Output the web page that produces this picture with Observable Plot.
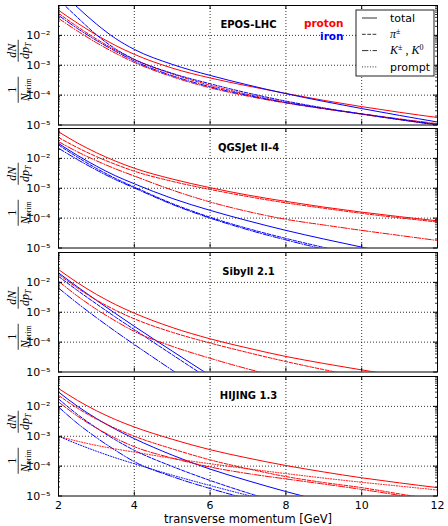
<!DOCTYPE html>
<html>
<head>
<meta charset="utf-8">
<script src="https://cdn.jsdelivr.net/npm/d3@7"></script>
<script src="https://cdn.jsdelivr.net/npm/@observablehq/plot@0.6"></script>
<style>
  html, body { margin: 0; padding: 0; background: #fff; overflow: hidden; }
  #chart { position: relative; width: 448px; height: 526px; }
  #chart svg { position: absolute; left: 0; overflow: visible; }
</style>
</head>
<body>
<div id="chart"></div>
<script>
// transverse momentum grid (GeV) shared by every curve
const pT = [2, 2.5, 3, 3.5, 4, 5, 6, 7, 8, 9, 10, 11, 12];

// EPOS-LHC
const eposProtonTotal = [6.92e-2, 2.57e-2, 1.035e-2, 4.62e-3, 2.32e-3, 8.04e-4, 3.76e-4, 2.02e-4, 1.135e-4, 6.68e-5, 4.12e-5, 2.66e-5, 1.78e-5];
const eposProtonPi    = [5.50e-2, 1.95e-2, 7.59e-3, 3.24e-3, 1.55e-3, 5.13e-4, 2.14e-4, 1.05e-4, 5.75e-5, 3.55e-5, 2.29e-5, 1.51e-5, 1.0e-5];
const eposProtonK     = [3.72e-2, 1.40e-2, 5.69e-3, 2.54e-3, 1.245e-3, 4.12e-4, 1.76e-4, 9.23e-5, 5.43e-5, 3.51e-5, 2.37e-5, 1.60e-5, 1.11e-5];
const eposIronTotal   = [3.55e-1, 8.71e-2, 2.40e-2, 7.94e-3, 3.39e-3, 1.07e-3, 4.57e-4, 2.19e-4, 1.12e-4, 6.17e-5, 3.55e-5, 2.09e-5, 1.26e-5];
const eposIronPi      = [1.585e-1, 3.98e-2, 1.047e-2, 3.55e-3, 1.585e-3, 5.37e-4, 2.40e-4, 1.175e-4, 6.31e-5, 3.72e-5, 2.34e-5, 1.51e-5, 1.0e-5];
const eposIronK       = [4.68e-2, 1.70e-2, 6.76e-3, 2.95e-3, 1.38e-3, 4.47e-4, 1.905e-4, 9.77e-5, 5.62e-5, 3.55e-5, 2.34e-5, 1.55e-5, 1.047e-5];

// QGSJet II-4
const qgsProtonTotal = [7.76e-2, 3.27e-2, 1.55e-2, 8.13e-3, 4.68e-3, 2.04e-3, 1.047e-3, 5.89e-4, 3.63e-4, 2.34e-4, 1.585e-4, 1.12e-4, 8.13e-5];
const qgsProtonPi    = [5.01e-2, 2.29e-2, 1.148e-2, 6.31e-3, 3.72e-3, 1.70e-3, 9.12e-4, 5.25e-4, 3.24e-4, 2.14e-4, 1.445e-4, 1.023e-4, 7.41e-5];
const qgsProtonK     = [3.63e-2, 1.66e-2, 8.32e-3, 4.47e-3, 2.57e-3, 8.71e-4, 3.47e-4, 1.66e-4, 9.12e-5, 5.89e-5, 3.89e-5, 2.63e-5, 1.78e-5];
const qgsIronTotal   = [3.16e-2, 1.26e-2, 5.50e-3, 2.63e-3, 1.41e-3, 4.57e-4, 1.82e-4, 8.13e-5, 3.89e-5, 2.0e-5, 1.07e-5, 6.03e-6];
const qgsIronPi      = [2.82e-2, 1.096e-2, 4.62e-3, 2.14e-3, 1.096e-3, 3.09e-4, 1.07e-4, 4.47e-5, 2.09e-5, 1.047e-5, 5.62e-6];
const qgsIronK       = [2.19e-2, 9.12e-3, 4.07e-3, 1.95e-3, 1.023e-3, 2.88e-4, 1.0e-4, 4.07e-5, 1.86e-5, 9.12e-6, 4.79e-6];

// Sibyll 2.1
const sibProtonTotal = [2.69e-2, 9.77e-3, 3.98e-3, 1.82e-3, 9.33e-4, 3.09e-4, 1.29e-4, 6.31e-5, 3.31e-5, 1.93e-5, 1.175e-5, 7.41e-6];
const sibProtonPi    = [1.86e-2, 6.46e-3, 2.57e-3, 1.175e-3, 6.03e-4, 2.14e-4, 9.33e-5, 4.47e-5, 2.24e-5, 1.20e-5, 6.76e-6];
const sibProtonK     = [1.096e-2, 3.47e-3, 1.26e-3, 5.13e-4, 2.29e-4, 7.24e-5, 2.88e-5, 1.26e-5, 6.03e-6];
const sibIronTotal   = [2.09e-2, 7.08e-3, 2.51e-3, 9.12e-4, 3.39e-4, 5.01e-5, 7.59e-6];
const sibIronPi      = [1.585e-2, 5.37e-3, 1.905e-3, 6.92e-4, 2.63e-4, 3.80e-5, 5.62e-6];
const sibIronK       = [6.46e-3, 2.0e-3, 6.61e-4, 2.29e-4, 8.32e-5, 1.148e-5, 1.585e-6];

// HIJING 1.3
const hijProtonTotal  = [3.98e-2, 1.585e-2, 7.16e-3, 3.63e-3, 2.04e-3, 7.94e-4, 3.55e-4, 1.86e-4, 1.047e-4, 6.38e-5, 4.07e-5, 2.75e-5, 1.905e-5];
const hijProtonPi     = [2.34e-2, 8.71e-3, 3.76e-3, 1.84e-3, 1.0e-3, 3.80e-4, 1.62e-4, 8.13e-5, 4.47e-5, 2.82e-5, 1.905e-5, 1.175e-5, 7.41e-6];
const hijProtonK      = [1.41e-2, 4.73e-3, 1.88e-3, 8.61e-4, 4.47e-4, 1.86e-4, 9.33e-5, 5.62e-5, 3.72e-5, 2.51e-5, 1.66e-5, 1.047e-5, 6.31e-6];
const hijProtonPrompt = [1.0e-3, 6.84e-4, 4.95e-4, 3.76e-4, 2.95e-4, 1.82e-4, 1.20e-4, 8.13e-5, 5.62e-5, 3.98e-5, 2.88e-5, 2.14e-5, 1.585e-5];
const hijIronTotal    = [3.02e-2, 1.012e-2, 3.94e-3, 1.72e-3, 8.32e-4, 2.34e-4, 7.94e-5, 3.24e-5, 1.41e-5, 6.61e-6];
const hijIronPi       = [1.78e-2, 5.37e-3, 1.905e-3, 7.59e-4, 3.39e-4, 9.77e-5, 3.31e-5, 1.26e-5, 5.25e-6];
const hijIronK        = [9.55e-3, 2.69e-3, 9.02e-4, 3.39e-4, 1.41e-4, 4.47e-5, 1.78e-5, 7.94e-6];
const hijIronPrompt   = [1.0e-3, 5.50e-4, 3.16e-4, 1.905e-4, 1.20e-4, 5.01e-5, 2.24e-5, 1.047e-5, 5.01e-6];

// axis ticks and labels
const xTicks = [2, 4, 6, 8, 10, 12];
const xGrid = [4, 6, 8, 10];
const yTicks = [1e-5, 1e-4, 1e-3, 1e-2];
const yTickLabels = ["10\u207B\u2075", "10\u207B\u2074", "10\u207B\u00B3", "10\u207B\u00B2"];
const yGrid = [1e-4, 1e-3, 1e-2];
const yMinor = [];
for (const base of [1e-5, 1e-4, 1e-3, 1e-2]) for (let m = 2; m <= 9; m++) yMinor.push(m * base);

const primaries = ["proton", "iron"];
const primaryColors = ["#ff0000", "#0000ff"];
const xLabel = "transverse momentum [GeV]";

const models = [
  {name: "EPOS-LHC",
   proton: {total: eposProtonTotal, pi: eposProtonPi, K: eposProtonK},
   iron:   {total: eposIronTotal, pi: eposIronPi, K: eposIronK}},
  {name: "QGSJet II-4",
   proton: {total: qgsProtonTotal, pi: qgsProtonPi, K: qgsProtonK},
   iron:   {total: qgsIronTotal, pi: qgsIronPi, K: qgsIronK}},
  {name: "Sibyll 2.1",
   proton: {total: sibProtonTotal, pi: sibProtonPi, K: sibProtonK},
   iron:   {total: sibIronTotal, pi: sibIronPi, K: sibIronK}},
  {name: "HIJING 1.3",
   proton: {total: hijProtonTotal, pi: hijProtonPi, K: hijProtonK, prompt: hijProtonPrompt},
   iron:   {total: hijIronTotal, pi: hijIronPi, K: hijIronK, prompt: hijIronPrompt}}
];

// line style per component
const components = ["total", "pi", "K", "prompt"];
const dashes = {total: null, pi: "3.7,1.6", K: "6.4,1.6,1,1.6", prompt: "1,1.65"};

function rowsFor(model, comp) {
  const out = [];
  for (const primary of primaries) {
    const vals = model[primary][comp];
    if (!vals) continue;
    vals.forEach((v, i) => out.push({pT: pT[i], v, primary}));
  }
  return out;
}

const chart = document.getElementById("chart");
const panelTops = [5, 128.3, 251.5, 375.8];
const frameH = 119.5;
const marginLeft = 58, marginRight = 11, W = 448;
const frameW = W - marginLeft - marginRight;
const mt = 2;

function addYLabel(svg, cy) {
  const g = d3.select(svg).append("g")
    .attr("transform", `translate(19,${cy}) rotate(-90)`)
    .attr("font-family", "Liberation Serif, DejaVu Serif, serif")
    .attr("font-size", 12)
    .attr("fill", "#000");
  // 1 / N_prim
  g.append("text").attr("x", -25).attr("y", -3.5).attr("text-anchor", "middle").text("1");
  g.append("line").attr("x1", -38).attr("x2", -12).attr("y1", -0.8).attr("y2", -0.8)
    .attr("stroke", "#000").attr("stroke-width", 0.8);
  const den1 = g.append("text").attr("x", -25).attr("y", 9.5).attr("text-anchor", "middle");
  den1.append("tspan").attr("font-style", "italic").text("N");
  den1.append("tspan").attr("font-size", 8).attr("dy", 2.5).text("prim");
  // dN / dp_T
  g.append("text").attr("x", 14).attr("y", -3.5).attr("text-anchor", "middle")
    .attr("font-style", "italic").text("dN");
  g.append("line").attr("x1", 3).attr("x2", 25).attr("y1", -0.8).attr("y2", -0.8)
    .attr("stroke", "#000").attr("stroke-width", 0.8);
  const den2 = g.append("text").attr("x", 14).attr("y", 9.5).attr("text-anchor", "middle")
    .attr("font-style", "italic");
  den2.append("tspan").text("dp");
  den2.append("tspan").attr("font-size", 8).attr("dy", 2.5).text("T");
}

function addLegend(svg) {
  const g = d3.select(svg).append("g").attr("text-anchor", "start");
  const x0 = 356, y0 = 7, w = 78, h = 66;
  g.append("rect").attr("x", x0).attr("y", y0).attr("width", w).attr("height", h)
    .attr("fill", "#fff").attr("stroke", "#222").attr("stroke-width", 1);
  const entries = [
    {comp: "total", label: [{t: "total"}]},
    {comp: "pi", label: [{t: "\u03C0", i: true, serif: true}, {t: "\u00B1", sup: true, serif: true}]},
    {comp: "K", label: [{t: "K", i: true, serif: true}, {t: "\u00B1", sup: true, serif: true},
                        {t: " , ", serif: true}, {t: "K", i: true, serif: true}, {t: "0", sup: true, serif: true}]},
    {comp: "prompt", label: [{t: "prompt"}]}
  ];
  entries.forEach((e, k) => {
    const cy = y0 + 8 + k * 16.3;
    g.append("line").attr("x1", x0 + 6).attr("x2", x0 + 21).attr("y1", cy).attr("y2", cy)
      .attr("stroke", "#333").attr("stroke-width", 1)
      .attr("stroke-dasharray", dashes[e.comp]);
    const txt = g.append("text").attr("x", x0 + 34).attr("y", cy).attr("dy", "0.35em")
      .attr("text-anchor", "start")
      .attr("font-family", "DejaVu Sans, sans-serif").attr("font-size", 11).attr("fill", "#000");
    let lifted = false;
    for (const part of e.label) {
      const ts = txt.append("tspan").text(part.t);
      if (part.serif) ts.attr("font-family", "Liberation Serif, DejaVu Serif, serif").attr("font-size", 12);
      if (part.i) ts.attr("font-style", "italic");
      if (part.sup && !lifted) { ts.attr("font-size", 8).attr("dy", -4); lifted = true; }
      else if (!part.sup && lifted) { ts.attr("dy", 4); lifted = false; }
      else if (part.sup) ts.attr("font-size", 8);
    }
  });
}

models.forEach((model, i) => {
  const last = i === models.length - 1;
  const mb = last ? 31.5 : 2.5;
  const height = mt + frameH + mb;

  const lineMarks = [];
  for (const comp of components) {
    const rows = rowsFor(model, comp);
    if (!rows.length) continue;
    lineMarks.push(Plot.line(rows, {
      x: "pT", y: "v", z: "primary", stroke: "primary",
      strokeWidth: 1, strokeDasharray: dashes[comp],
      curve: "monotone-x", clip: true
    }));
  }

  const gridStyle = {stroke: "#000", strokeOpacity: 1, strokeWidth: 0.8, strokeDasharray: "1,2"};

  const marks = [
    Plot.gridX(xGrid, gridStyle),
    Plot.gridY(yGrid, gridStyle),
    ...lineMarks,
    Plot.frame({stroke: "#000", strokeWidth: 1}),
    // inward ticks on all four sides
    Plot.tickY(yTicks, {y: d => d, insetRight: frameW - 4, stroke: "#000"}),
    Plot.tickY(yTicks, {y: d => d, insetLeft: frameW - 4, stroke: "#000"}),
    Plot.tickY(yMinor, {y: d => d, insetRight: frameW - 2, stroke: "#000", strokeWidth: 0.8}),
    Plot.tickY(yMinor, {y: d => d, insetLeft: frameW - 2, stroke: "#000", strokeWidth: 0.8}),
    Plot.tickX(xTicks, {x: d => d, insetBottom: frameH - 4, stroke: "#000"}),
    Plot.tickX(xTicks, {x: d => d, insetTop: frameH - 4, stroke: "#000"}),
    Plot.axisY(yTicks, {
      anchor: "left", tickSize: 0, tickPadding: 8, label: null,
      tickFormat: d => yTickLabels[yTicks.indexOf(d)], fontSize: 11
    }),
    Plot.text([model.name], {
      text: d => d, frameAnchor: "top", dx: 0.5, dy: 19,
      lineAnchor: "middle", fontWeight: "bold", fontSize: 10, fill: "#000"
    })
  ];

  if (i === 0) {
    marks.push(Plot.text([primaries[0]], {
      text: d => d, frameAnchor: "top-right", dx: -94, dy: 18, textAnchor: "end",
      lineAnchor: "middle", fontWeight: "bold", fontSize: 10.5, fill: primaryColors[0]
    }));
    marks.push(Plot.text([primaries[1]], {
      text: d => d, frameAnchor: "top-right", dx: -94, dy: 31, textAnchor: "end",
      lineAnchor: "middle", fontWeight: "bold", fontSize: 10.5, fill: primaryColors[1]
    }));
  }

  if (last) {
    marks.push(Plot.axisX(xTicks, {anchor: "bottom", tickSize: 0, tickPadding: 5, label: null, fontSize: 11}));
    marks.push(Plot.text([xLabel], {
      text: d => d, frameAnchor: "bottom", dy: 23, lineAnchor: "middle", fontSize: 11.5, fill: "#000"
    }));
  }

  const svg = Plot.plot({
    width: W, height,
    marginLeft, marginRight, marginTop: mt, marginBottom: mb,
    x: {domain: [2, 12], axis: null},
    y: {type: "log", domain: [1e-5, 1e-1], axis: null},
    color: {domain: primaries, range: primaryColors},
    style: {fontFamily: "DejaVu Sans, sans-serif", fontSize: "11px", background: "transparent", color: "#000"},
    marks
  });
  svg.style.top = (panelTops[i] - mt) + "px";
  addYLabel(svg, mt + frameH / 2);
  if (i === 0) addLegend(svg);
  chart.appendChild(svg);
});
</script>
</body>
</html>
